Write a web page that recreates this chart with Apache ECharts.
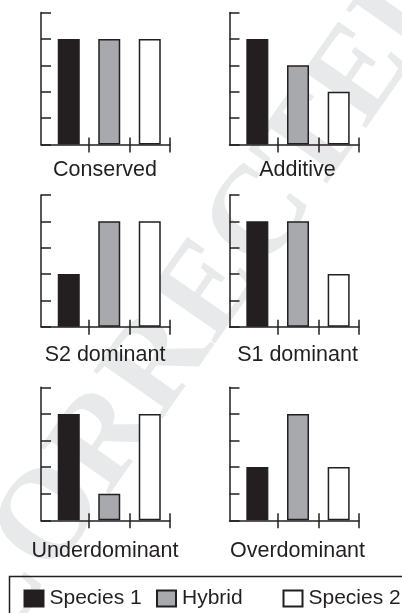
<!DOCTYPE html>
<html>
<head>
<meta charset="utf-8">
<script src="https://cdn.jsdelivr.net/npm/echarts@6/dist/echarts.min.js"></script>
<style>html,body{margin:0;padding:0;background:#fff}#c{width:402px;height:613px}</style>
</head>
<body>
<div id="c"></div>
<script>
var panelTitles = ['Conserved', 'Additive', 'S2 dominant', 'S1 dominant', 'Underdominant', 'Overdominant'];
var seriesNames = ['Species 1', 'Hybrid', 'Species 2'];
var species1 = [4, 4, 2, 4, 4, 2];
var hybrid   = [4, 3, 4, 4, 1, 4];
var species2 = [4, 2, 4, 2, 4, 2];
var categoryPos = [0.5, 1.5, 2.5];
var boundaryTicks = [1, 2, 3];

var INK = '#231f20', GREY = '#a7a9ac';
var colLeft = [41, 229.5], colWidth = [129, 129.5];
var rowTop = [12.5, 195, 387.3], rowH = [132, 131.7, 133];
var titleX = [105, 297.5], titleY = [168.3, 354, 549.5];

var grids = [], xAxes = [], yAxes = [], series = [], titles = [];
var styles = [
  {color: INK, borderColor: INK, borderWidth: 1.2},
  {color: GREY, borderColor: INK, borderWidth: 1.5},
  {color: '#ffffff', borderColor: INK, borderWidth: 1.5}
];
var vals = [species1, hybrid, species2];
for (var p = 0; p < 6; p++) {
  var c = p % 2, r = Math.floor(p / 2);
  grids.push({left: colLeft[c], top: rowTop[r], width: colWidth[c], height: rowH[r]});
  xAxes.push({
    type: 'value', gridIndex: p, min: -0.185, max: 3, scale: true,
    axisLine: {show: true, onZero: false, lineStyle: {color: INK, width: 1.5}},
    axisTick: {show: true, customValues: boundaryTicks, length: 8, lineStyle: {color: INK, width: 1.5}},
    axisLabel: {show: false}, splitLine: {show: false}
  });
  xAxes.push({
    type: 'value', gridIndex: p, min: -0.185, max: 3, scale: true, position: 'bottom',
    axisLine: {show: false, onZero: false},
    axisTick: {show: true, inside: true, customValues: boundaryTicks, length: 7, lineStyle: {color: INK, width: 1.5}},
    axisLabel: {show: false}, splitLine: {show: false}
  });
  yAxes.push({
    type: 'value', gridIndex: p, min: 0, max: 5, interval: 1,
    axisLine: {show: true, onZero: false, lineStyle: {color: INK, width: 1.5}},
    axisTick: {show: true, inside: true, length: 10, lineStyle: {color: INK, width: 1.5}},
    axisLabel: {show: false}, splitLine: {show: false}
  });
  for (var s = 0; s < 3; s++) {
    series.push({
      type: 'bar', name: seriesNames[s], xAxisIndex: p * 2, yAxisIndex: p,
      barWidth: 22, barGap: '-100%', itemStyle: styles[s], animation: false,
      data: [[categoryPos[s], vals[s][p]]]
    });
  }
  titles.push({
    text: panelTitles[p], left: titleX[c], top: titleY[r] - 9.5, textAlign: 'center', padding: 0,
    textStyle: {fontFamily: 'Liberation Sans, Arial, sans-serif', fontSize: 21.5, fontWeight: 'normal', color: INK}
  });
}

var legendBase = {
  icon: 'rect', itemWidth: 19, itemHeight: 16, itemGap: 0, padding: 0, top: 588,
  selectedMode: false,
  textStyle: {fontFamily: 'Liberation Sans, Arial, sans-serif', fontSize: 21, color: INK, padding: [0, 0, 0, 1]}
};
var legends = [
  Object.assign({}, legendBase, {left: 23.5, data: [seriesNames[0]]}),
  Object.assign({}, legendBase, {left: 156, data: [seriesNames[1]]}),
  Object.assign({}, legendBase, {left: 282.5, data: [seriesNames[2]]})
];

var chart = echarts.init(document.getElementById('c'), null, {renderer: 'canvas'});
chart.setOption({
  animation: false,
  backgroundColor: '#ffffff',
  title: titles,
  legend: legends,
  grid: grids,
  xAxis: xAxes,
  yAxis: yAxes,
  series: series,
  graphic: [
    {type: 'text', z: -10, silent: true, x: 205, y: 300, rotation: 0.96,
     style: {text: 'CORRECTED', fill: '#e8e9ea', font: 'bold 128px "Liberation Serif", serif', align: 'center', verticalAlign: 'middle'}},
    {type: 'rect', silent: true, shape: {x: 9.5, y: 576.5, width: 420, height: 60},
     style: {fill: 'none', stroke: INK, lineWidth: 1.5}}
  ]
});
</script>
</body>
</html>
